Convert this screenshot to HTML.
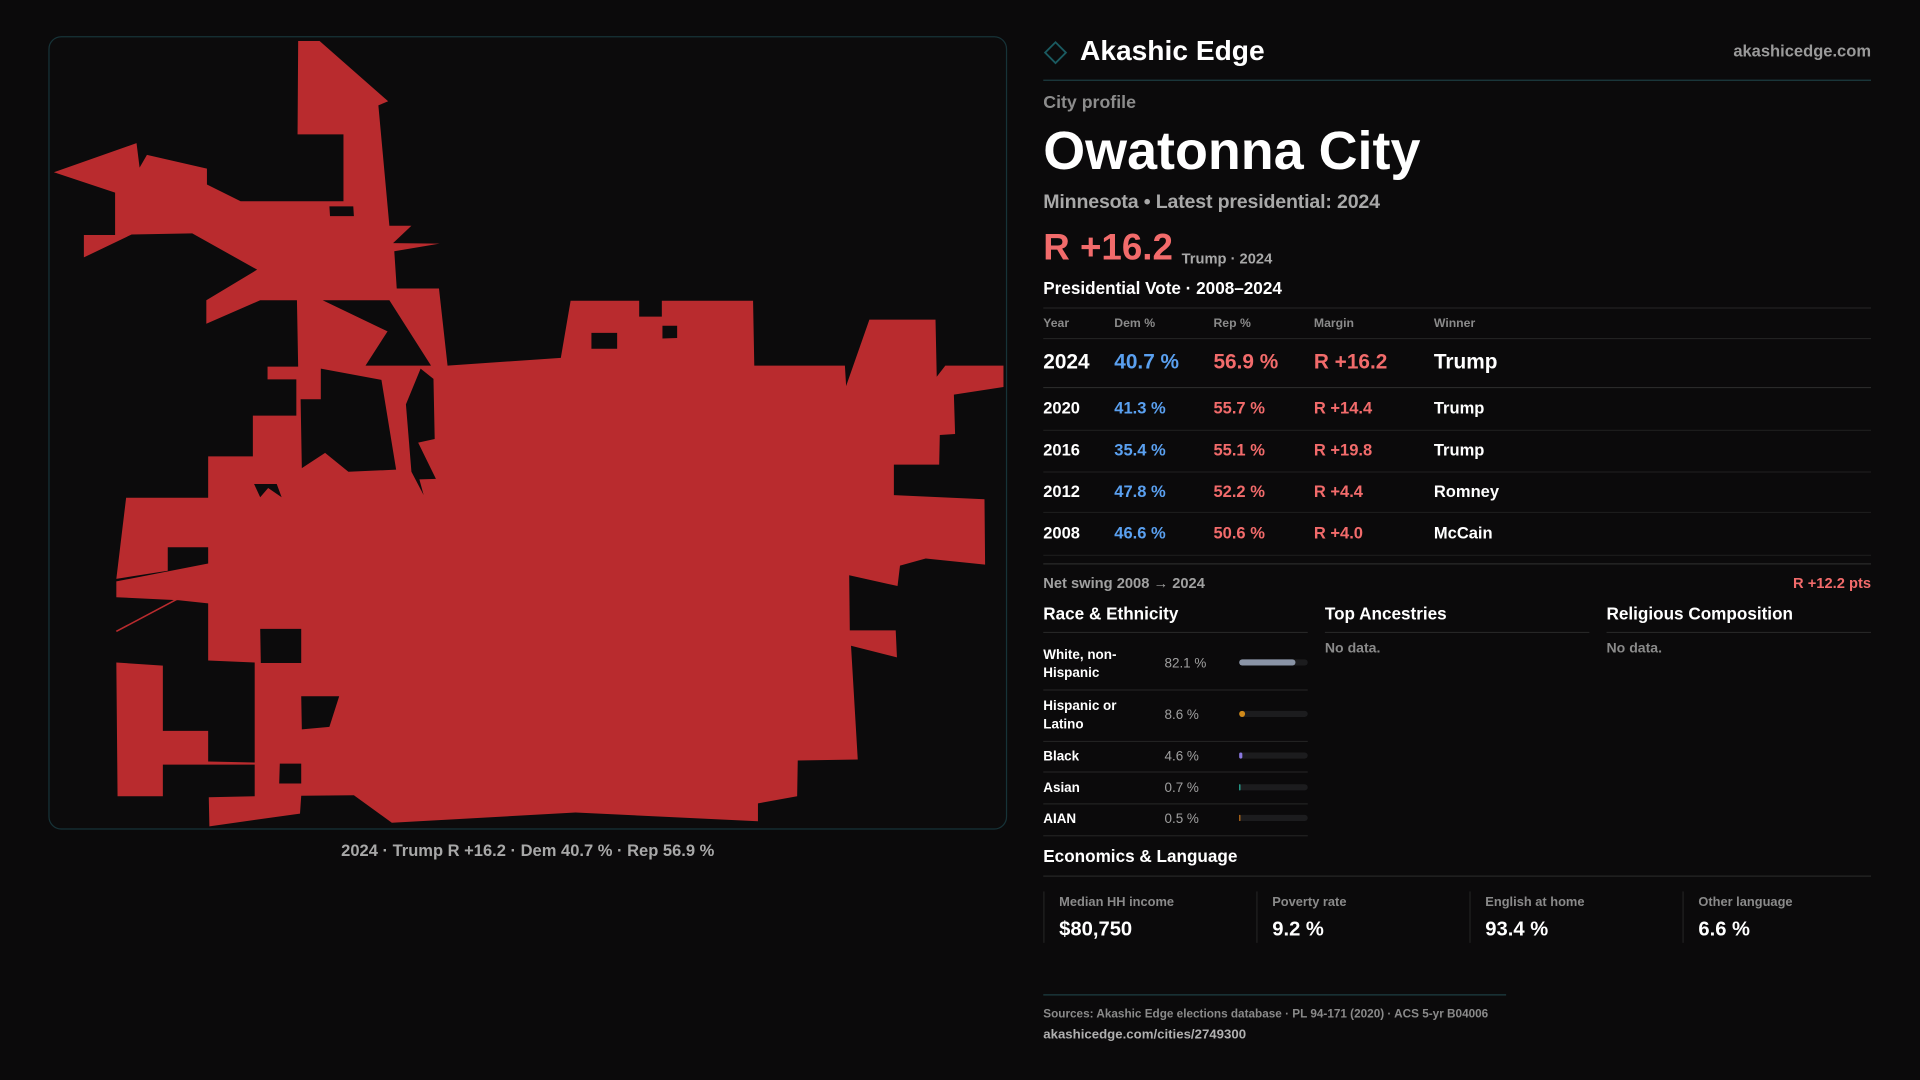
<!DOCTYPE html>
<html><head><meta charset="utf-8"><style>
html,body{margin:0;padding:0;background:#0b0a0b;width:1920px;height:1080px;overflow:hidden}
svg{display:block}
text{font-family:"Liberation Sans",sans-serif}
</style></head><body>
<svg id="page" width="1920" height="1080" viewBox="0 0 1568 882" xmlns="http://www.w3.org/2000/svg">
<rect x="0" y="0" width="1568" height="882" fill="#0b0a0b"/>
<g>
<rect x="40" y="30" width="782" height="647" rx="10" fill="#0c0b0c" stroke="#173338" stroke-width="1"/>
<g transform="translate(40,30.2) scale(0.5,0.4167)">
<polygon fill="#b92b2e" points="407,8 442,8 554,126 538,134 556,370 592,370 562,404 638,405 564,420 568,493 637,493 651,644 836,629 852,517 964,517 964,548 1001,548 1001,517 1150,517 1152,644 1300,644 1302,684 1340,554 1448,554 1450,666 1464,644 1559,644 1559,686 1478,701 1480,778 1455,780 1454,838 1380,838 1380,898 1528,906 1529,1034 1432,1022 1390,1036 1386,1076 1307,1055 1308,1163 1383,1163 1385,1216 1310,1193 1321,1416 1223,1418 1222,1488 1158,1502 1158,1537 860,1520 560,1540 498,1486 412,1487 410,1522 262,1547 261,1490 336,1488 336,1426 186,1426 186,1488 112,1488 110,1226 186,1232 186,1360 260,1360 260,1420 336,1422 336,1226 260,1222 260,1110 212,1104 110,1098 110,1067 260,1032 260,1000 194,1000 194,1046 110,1062 126,903 260,903 260,822 333,822 333,742 404,742 404,671 357,671 357,646 407,646 405,516 345,516 257,562 257,516 340,456 234,385 135,387 57,432 57,388 108,388 108,305 8,265 143,208 148,256 160,231 258,258 258,289 313,322 481,322 481,191 406,191"/>
<g fill="#0c0b0c">
<polygon points="458,332 497,332 498,351 459,351"/>
<polygon points="886,580 928,580 928,611 886,611"/>
<polygon points="1002,566 1026,566 1026,590 1002,591"/>
<polygon points="447,516 556,516 624,644 517,644 553,577"/>
<polygon points="411,710 444,710 444,650 543,672 567,848 489,852 451,815 413,845"/>
<polygon points="607,650 628,670 630,788 603,795 632,866 605,867 612,898 592,852 583,720"/>
<polygon points="335,876 372,876 380,902 358,884 345,902"/>
<polygon points="345,1160 412,1160 412,1227 346,1227"/>
<polygon points="412,1292 474,1292 458,1352 413,1357"/>
<polygon points="377,1424 412,1424 412,1463 376,1463"/>
</g>
<line x1="110" y1="1165" x2="212" y2="1100" stroke="#b92b2e" stroke-width="3"/>
</g>
</g>
<text x="431" y="699" text-anchor="middle" font-size="13.5" font-weight="bold" fill="#a8a8a8">2024 · Trump R +16.2 · Dem 40.7 % · Rep 56.9 %</text>

<g>
<rect x="856" y="37" width="12" height="12" transform="rotate(45 862 43)" fill="none" stroke="#1a5a60" stroke-width="1.5"/>
<text x="882" y="49" font-size="23" font-weight="bold" fill="#ffffff">Akashic Edge</text>
</g>
<text x="1528" y="46" text-anchor="end" font-size="13.5" font-weight="bold" fill="#9a9a9a">akashicedge.com</text>
<line x1="852" y1="65.5" x2="1528" y2="65.5" stroke="#1c3d42" stroke-width="1"/>

<text x="852" y="88" font-size="14.5" font-weight="bold" fill="#8c8c8c">City profile</text>
<text x="852" y="138" font-size="44" font-weight="bold" fill="#ffffff" textLength="308">Owatonna City</text>
<text x="852" y="170" font-size="16" font-weight="bold" fill="#a8a8a8" textLength="275">Minnesota • Latest presidential: 2024</text>
<text x="852" y="212" font-size="30" font-weight="bold" fill="#f26b6b">R +16.2</text>
<text x="965" y="215" font-size="12" font-weight="bold" fill="#a8a8a8">Trump · 2024</text>
<text x="852" y="240" font-size="14" font-weight="bold" fill="#ffffff">Presidential Vote · 2008–2024</text>

<g id="vote-table"></g>

<text x="852" y="480" font-size="12" font-weight="bold" fill="#a0a0a0">Net swing 2008 → 2024</text>
<text x="1528" y="480" text-anchor="end" font-size="12" font-weight="bold" fill="#f26b6b">R +12.2 pts</text>

<text x="852" y="506" font-size="14" font-weight="bold" fill="#ffffff">Race &amp; Ethnicity</text>
<line x1="852" y1="516.5" x2="1068" y2="516.5" stroke="#262626"/>
<text x="1082" y="506" font-size="14" font-weight="bold" fill="#ffffff">Top Ancestries</text>
<line x1="1082" y1="516.5" x2="1298" y2="516.5" stroke="#262626"/>
<text x="1082" y="533" font-size="11.5" font-weight="bold" fill="#8a8a8a">No data.</text>
<text x="1312" y="506" font-size="14" font-weight="bold" fill="#ffffff">Religious Composition</text>
<line x1="1312" y1="516.5" x2="1528" y2="516.5" stroke="#262626"/>
<text x="1312" y="533" font-size="11.5" font-weight="bold" fill="#8a8a8a">No data.</text>

<g id="race-chart"></g>

<text x="852" y="704" font-size="14" font-weight="bold" fill="#ffffff">Economics &amp; Language</text>
<line x1="852" y1="715.5" x2="1528" y2="715.5" stroke="#262626"/>
<g id="econ"></g>

<line x1="852" y1="812.5" x2="1230" y2="812.5" stroke="#1c3d42"/>
<text x="852" y="831" font-size="9.6" font-weight="bold" fill="#8a8a8a">Sources: Akashic Edge elections database · PL 94-171 (2020) · ACS 5-yr B04006</text>
<text x="852" y="848" font-size="10.8" font-weight="bold" fill="#b0b0b0">akashicedge.com/cities/2749300</text>
</svg>
<script>
const years=["2024","2020","2016","2012","2008"];
const demPct=[40.7,41.3,35.4,47.8,46.6];
const repPct=[56.9,55.7,55.1,52.2,50.6];
const margins=["R +16.2","R +14.4","R +19.8","R +4.4","R +4.0"];
const winners=["Trump","Trump","Trump","Romney","McCain"];
const raceLabels=[["White, non-","Hispanic"],["Hispanic or","Latino"],["Black"],["Asian"],["AIAN"]];
const raceValues=[82.1,8.6,4.6,0.7,0.5];
const raceColors=["#8a94a6","#d18a1a","#8a78e0","#2ab3a0","#c0701a"];
const econLabels=["Median HH income","Poverty rate","English at home","Other language"];
const econValues=["$80,750","9.2 %","93.4 %","6.6 %"];

const NS="http://www.w3.org/2000/svg";
function mk(tag,attrs,parent,txt){const e=document.createElementNS(NS,tag);for(const k in attrs)e.setAttribute(k,attrs[k]);if(txt!==undefined)e.textContent=txt;parent.appendChild(e);return e;}

const vt=document.getElementById('vote-table');
const cols=[852,910,991,1073,1171];
mk('line',{x1:852,y1:251.5,x2:1528,y2:251.5,stroke:'#222'},vt);
["Year","Dem %","Rep %","Margin","Winner"].forEach((h,i)=>{
  const t=mk('text',{x:cols[i],y:267,'font-size':10,'font-weight':'bold',fill:'#8a8a8a'},vt,h);
  
  
});
mk('line',{x1:852,y1:276.5,x2:1528,y2:276.5,stroke:'#222'},vt);
const rowY=[295,333,367,401,435];
const lineY=[316.5,351.5,385.5,418.5,453.5];
years.forEach((y,i)=>{
  const g=mk('g',{},vt);
  
  
  const fs=i===0?17:13.5;
  const by=rowY[i]+fs*0.36;
  mk('text',{x:cols[0],y:by,'font-size':fs,'font-weight':'bold',fill:'#fff'},g,y);
  mk('text',{x:cols[1],y:by,'font-size':fs,'font-weight':'bold',fill:'#5aa0f0'},g,demPct[i].toFixed(1)+" %");
  mk('text',{x:cols[2],y:by,'font-size':fs,'font-weight':'bold',fill:'#f26b6b'},g,repPct[i].toFixed(1)+" %");
  mk('text',{x:cols[3],y:by,'font-size':fs,'font-weight':'bold',fill:'#f26b6b'},g,margins[i]);
  mk('text',{x:cols[4],y:by,'font-size':fs,'font-weight':'bold',fill:'#fff'},g,winners[i]);
  mk('line',{x1:852,y1:lineY[i],x2:1528,y2:lineY[i],stroke:i===0?'#2a2a2a':'#1c1c1c'},g);
});
mk('line',{x1:852,y1:460.5,x2:1528,y2:460.5,stroke:'#2a2a2a'},vt);

const rc=document.getElementById('race-chart');
const rY=[541,583,617,643,668];
const rLine=[563.5,605.5,630.5,656.5,682.5];
const barX=1012,barW=56;
function xScale(v){return barW*v/100;}
raceValues.forEach((v,i)=>{
  const g=mk('g',{},rc);
  
  
  const lab=raceLabels[i];
  if(lab.length===2){
    mk('text',{x:852,y:rY[i]-3,'font-size':11,'font-weight':'bold',fill:'#fff'},g,lab[0]);
    mk('text',{x:852,y:rY[i]+12,'font-size':11,'font-weight':'bold',fill:'#fff'},g,lab[1]);
  } else mk('text',{x:852,y:rY[i]+4,'font-size':11,'font-weight':'bold',fill:'#fff'},g,lab[0]);
  mk('text',{x:951,y:rY[i]+4,'font-size':11,fill:'#a0a0a0'},g,v.toFixed(1)+" %");
  mk('rect',{x:barX,y:rY[i]-2.5,width:barW,height:5,rx:2.5,fill:'#1c1c1e'},g);
  const b=mk('rect',{x:barX,y:rY[i]-2.5,width:Math.max(1,xScale(v)),height:5,rx:Math.min(2.5,xScale(v)/2),fill:raceColors[i]},g);
  
  
  mk('line',{x1:852,y1:rLine[i],x2:1068,y2:rLine[i],stroke:'#222'},g);
});

const ec=document.getElementById('econ');
const eX=[852,1026,1200,1374];
econLabels.forEach((l,i)=>{
  const g=mk('g',{},ec);
  
  
  mk('line',{x1:eX[i]+0.5,y1:728,x2:eX[i]+0.5,y2:770,stroke:'#222'},g);
  mk('text',{x:eX[i]+13,y:740,'font-size':10.5,'font-weight':'bold',fill:'#8a8a8a'},g,l);
  mk('text',{x:eX[i]+13,y:764,'font-size':16.5,'font-weight':'bold',fill:'#fff'},g,econValues[i]);
});
</script>
</body></html>
